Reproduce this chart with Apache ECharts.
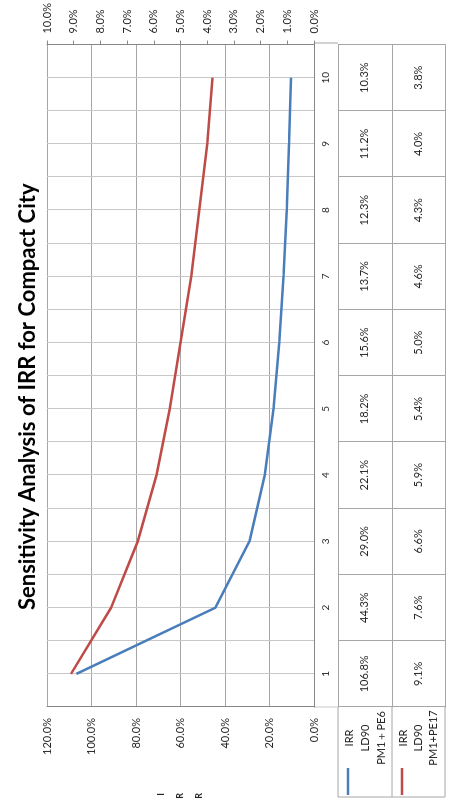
<!DOCTYPE html>
<html>
<head>
<meta charset="utf-8">
<script src="https://cdn.jsdelivr.net/npm/echarts@6/dist/echarts.min.js"></script>
<style>
  html, body { margin: 0; padding: 0; width: 457px; height: 803px; overflow: hidden; background: #fff; }
  /* the chart is laid out landscape and turned a quarter-turn to stand upright */
  #chart { position: absolute; left: 0; top: 0; width: 803px; height: 457px;
           transform-origin: 0 0; transform: translate(0, 803px) rotate(-90deg); }
</style>
</head>
<body>
<div id="chart"></div>
<script>
// scenario index along the category axis
const categories = ['1', '2', '3', '4', '5', '6', '7', '8', '9', '10'];
// IRR (%) for LD90 PM1+PE6, read on the left axis
const irrPE6 = [106.8, 44.3, 29.0, 22.1, 18.2, 15.6, 13.7, 12.3, 11.2, 10.3];
// IRR (%) for LD90 PM1+PE17, read on the right axis
const irrPE17 = [9.1, 7.6, 6.6, 5.9, 5.4, 5.0, 4.6, 4.3, 4.0, 3.8];
const seriesNames = ['IRR\nLD90\nPM1＋PE6', 'IRR\nLD90\nPM1+PE17'];
const titleText = 'Sensitivity Analysis of IRR for Compact City';
const leftAxisRange = [0, 120, 20];
const rightAxisRange = [0, 10, 1];

const FONT = 'Lato, "Noto Sans", sans-serif';
const BLUE = '#4a7ebb';
const RED = '#be4b48';
const AXIS = '#868686';
const GRID = '#a6a6a6';
const GRID_LIGHT = '#c8c8c8';
const TEXT = '#262626';

// plot box (landscape coordinates)
const G = { left: 96, right: 760, top: 47, bottom: 314 };
const W = 803, H = 457;
const rowCat = 24, rowA = 54, rowB = 53;
const tableLeft = 6;
const yA = G.bottom + rowCat, yB = yA + rowA, yEnd = yB + rowB;

// half-band ticks give the fine category grid
const halfBands = [];
categories.forEach(c => { halfBands.push(c + 'a', c + 'b'); });

const pct = v => v.toFixed(1) + '%';

const chart = echarts.init(document.getElementById('chart'), null, { renderer: 'canvas' });

const option = {
  animation: false,
  backgroundColor: '#fff',
  textStyle: { fontFamily: FONT },
  title: {
    text: titleText,
    left: 188, top: 12,
    textStyle: { fontFamily: FONT, fontSize: 22, fontWeight: 'bold', color: '#000' }
  },
  grid: { left: G.left, right: W - G.right, top: G.top, bottom: H - G.bottom },
  xAxis: [
    { // category labels row
      type: 'category', data: categories, position: 'bottom', boundaryGap: true,
      axisLine: { show: true, lineStyle: { color: AXIS } },
      axisTick: { show: false },
      axisLabel: { interval: 0, fontSize: 10, color: TEXT, margin: 7, fontFamily: FONT },
      splitLine: { show: false }
    },
    { // fine category grid
      type: 'category', data: halfBands, position: 'bottom', boundaryGap: true,
      axisLine: { show: false }, axisTick: { show: false }, axisLabel: { show: false },
      splitLine: { show: true, interval: 0, lineStyle: { color: GRID_LIGHT, width: 1 } }
    },
    { // data table: first series row
      type: 'category', data: categories, position: 'bottom', offset: rowCat, boundaryGap: true,
      axisLine: { show: true, lineStyle: { color: GRID } },
      axisTick: { show: true, interval: 0, length: rowA + rowB, lineStyle: { color: GRID } },
      axisLabel: { interval: 0, fontSize: 11, color: TEXT, margin: 21, fontFamily: FONT,
                   formatter: (v, i) => pct(irrPE6[i]) },
      splitLine: { show: false }
    },
    { // data table: second series row
      type: 'category', data: categories, position: 'bottom', offset: rowCat + rowA, boundaryGap: true,
      axisLine: { show: true, lineStyle: { color: GRID } },
      axisTick: { show: false },
      axisLabel: { interval: 0, fontSize: 11, color: TEXT, margin: 21, fontFamily: FONT,
                   formatter: (v, i) => pct(irrPE17[i]) },
      splitLine: { show: false }
    },
    { // data table bottom edge
      type: 'category', data: categories, position: 'bottom', offset: rowCat + rowA + rowB, boundaryGap: true,
      axisLine: { show: true, lineStyle: { color: GRID } },
      axisTick: { show: false }, axisLabel: { show: false }, splitLine: { show: false }
    }
  ],
  yAxis: [
    {
      type: 'value', position: 'left',
      min: leftAxisRange[0], max: leftAxisRange[1], interval: leftAxisRange[2],
      axisLine: { show: true, lineStyle: { color: AXIS } },
      axisTick: { show: false },
      axisLabel: { fontSize: 11, color: TEXT, margin: 11, fontFamily: FONT, formatter: v => pct(v) },
      splitLine: { show: true, lineStyle: { color: GRID, width: 1 } },
      name: 'I\nR\nR', nameLocation: 'middle', nameRotate: 0, nameGap: 86,
      nameTextStyle: { fontSize: 9, fontWeight: 'bold', color: TEXT, lineHeight: 19, fontFamily: FONT }
    },
    {
      type: 'value', position: 'right',
      min: rightAxisRange[0], max: rightAxisRange[1], interval: rightAxisRange[2],
      axisLine: { show: true, lineStyle: { color: AXIS } },
      axisTick: { show: true, length: 4, lineStyle: { color: AXIS } },
      axisLabel: { fontSize: 11, color: TEXT, margin: 11, fontFamily: FONT, formatter: v => pct(v) },
      splitLine: { show: false }
    }
  ],
  series: [
    {
      name: seriesNames[0], type: 'line', xAxisIndex: 0, yAxisIndex: 0,
      data: irrPE6, symbol: 'none', smooth: false,
      lineStyle: { color: BLUE, width: 2.5 }, itemStyle: { color: BLUE }, z: 5
    },
    {
      name: seriesNames[1], type: 'line', xAxisIndex: 0, yAxisIndex: 1,
      data: irrPE17, symbol: 'none', smooth: false,
      lineStyle: { color: RED, width: 2.5 }, itemStyle: { color: RED }, z: 5
    }
  ],
  graphic: [
    // legend column of the data table
    { type: 'line', shape: { x1: tableLeft, y1: yA, x2: G.left, y2: yA }, style: { stroke: GRID, lineWidth: 1 } },
    { type: 'line', shape: { x1: tableLeft, y1: yB, x2: G.left, y2: yB }, style: { stroke: GRID, lineWidth: 1 } },
    { type: 'line', shape: { x1: tableLeft, y1: yEnd, x2: G.left, y2: yEnd }, style: { stroke: GRID, lineWidth: 1 } },
    { type: 'line', shape: { x1: tableLeft, y1: yA, x2: tableLeft, y2: yEnd }, style: { stroke: GRID, lineWidth: 1 } },
    // plot edges carried through the category row
    { type: 'line', shape: { x1: G.left, y1: G.bottom, x2: G.left, y2: yA }, style: { stroke: GRID_LIGHT, lineWidth: 1 } },
    { type: 'line', shape: { x1: G.right, y1: G.bottom, x2: G.right, y2: yA }, style: { stroke: GRID, lineWidth: 1 } },
    // legend keys
    { type: 'line', shape: { x1: 8, y1: yA + 10, x2: 35, y2: yA + 10 }, style: { stroke: BLUE, lineWidth: 2.5 } },
    { type: 'line', shape: { x1: 8, y1: yB + 10, x2: 35, y2: yB + 10 }, style: { stroke: RED, lineWidth: 2.5 } },
    { type: 'text', x: 65, y: yA + 27, style: { text: seriesNames[0], fontSize: 11, lineHeight: 16, fill: TEXT,
      fontFamily: FONT, align: 'center', verticalAlign: 'middle' } },
    { type: 'text', x: 65, y: yB + 26, style: { text: seriesNames[1], fontSize: 11, lineHeight: 15, fill: TEXT,
      fontFamily: FONT, align: 'center', verticalAlign: 'middle' } }
  ]
};

chart.setOption(option);
</script>
</body>
</html>
